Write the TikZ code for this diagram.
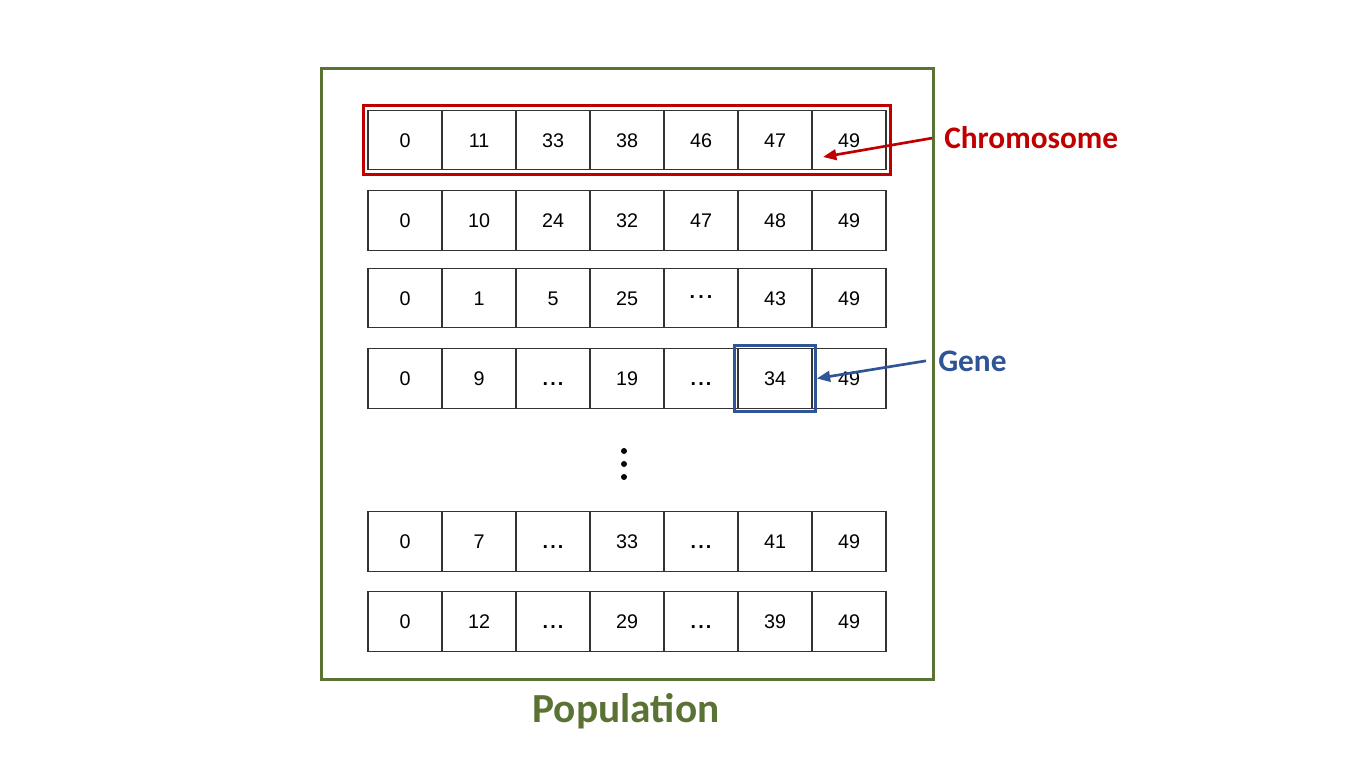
\documentclass[tikz,border=0pt]{standalone}
\usepackage{fontspec}
\setmainfont{Liberation Sans}
\newfontfamily\calfont{Carlito}
\usetikzlibrary{arrows.meta,fit}
\definecolor{PopGreen}{HTML}{5A7233}
\definecolor{ChromRed}{HTML}{C00000}
\definecolor{GeneBlue}{HTML}{2F5597}
\definecolor{CellLine}{HTML}{333333}
\newcommand\gapdots{\textbf{.\kern1.6pt.\kern1.6pt.}}
\newcommand\midgapdots{\raisebox{5pt}{\textbf{.\kern2.3pt.\kern2.3pt.}}}

\begin{document}
\begin{tikzpicture}[x=0.75pt, y=-0.75pt,
  cell/.style={draw=CellLine, line width=0.9pt, minimum width=55.5pt, minimum height=44.6pt, inner sep=0pt, text height=11pt, text depth=0pt, font=\fontsize{14.8}{17}\selectfont},
  popbox/.style={draw=PopGreen, line width=2.25pt, minimum width=459pt, minimum height=457.5pt},
  chromobox/.style={draw=ChromRed, line width=2.25pt, inner sep=3pt},
  genebox/.style={draw=GeneBlue, line width=2.25pt, inner sep=2pt},
  lbl/.style={inner xsep=9pt, inner ysep=0pt, font=\calfont\bfseries\fontsize{23.5}{28}\selectfont},
  poplbl/.style={inner sep=0pt, text=PopGreen, font=\calfont\bfseries\fontsize{31}{36}\selectfont},
  vdot/.style={circle, fill=black, inner sep=0pt, minimum size=4.5pt},
  pointer/.style={-{Triangle[length=10pt, width=8pt]}, line width=2pt}]
\useasboundingbox (0,0) rectangle (1346,770);
\node[popbox] (pop) at (627,374) {};
\node[poplbl, anchor=base] (poplabel) at (626,722) {Population};
% rows of genes
\foreach \r/\y/\vals in {1/140/{0,11,33,38,46,47,49}, 2/220.5/{0,10,24,32,47,48,49},
    3/298/{0,1,5,25,\midgapdots,43,49}, 4/378.5/{0,9,\gapdots,19,\gapdots,34,49},
    5/541.5/{0,7,\gapdots,33,\gapdots,41,49}, 6/621.5/{0,12,\gapdots,29,\gapdots,39,49}}
  \foreach \v [count=\c] in \vals
    \node[cell] (r\r c\c) at (331+74*\c,\y) {\v};
\foreach \k/\yy in {1/451,2/464,3/477}
  \node[vdot] (vd\k) at (624,\yy) {};
% highlights
\node[chromobox, fit=(r1c1)(r1c7)] (chromo) {};
\node[genebox, fit=(r4c6)] (gene) {};
\node[lbl, text=ChromRed, anchor=base west] (chromolbl) at (932,149) {Chromosome};
\node[lbl, text=GeneBlue, anchor=base west] (genelbl) at (926,371) {Gene};
\coordinate (chromotip) at (823,157);
\draw[pointer, ChromRed] (chromolbl.west) -- (chromotip);
\draw[pointer, GeneBlue] (genelbl.west) -- (gene.east);
\end{tikzpicture}
\end{document}
